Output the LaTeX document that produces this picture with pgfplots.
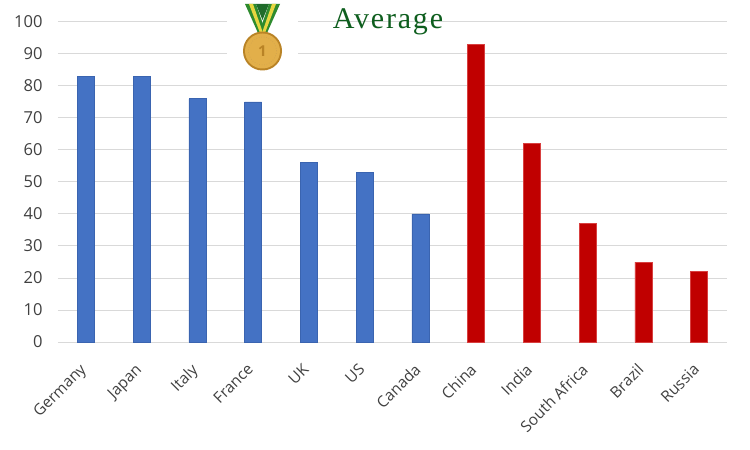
\documentclass[border=0pt]{standalone}
\usepackage{pgfplots}
\pgfplotsset{compat=1.18}
\usepackage{fontspec}
\setmainfont{Open Sans}
\newfontfamily\titlefont[LetterSpace=6]{Liberation Serif}
\definecolor{barblue}{HTML}{4472C4}
\definecolor{barblueedge}{HTML}{3A64B0}
\definecolor{barred}{HTML}{C00000}
\definecolor{barrededge}{HTML}{D84040}
\definecolor{gridgray}{HTML}{D9D9D9}
\definecolor{labgray}{HTML}{404040}
\definecolor{titlegreen}{HTML}{0E5E1E}
\definecolor{ribgreen}{HTML}{2E8B2E}
\definecolor{ribdark}{HTML}{1F6B2A}
\definecolor{ribyellow}{HTML}{E6D640}
\definecolor{gold}{HTML}{E2AF4A}
\definecolor{golddark}{HTML}{B98326}
\begin{document}
\begin{tikzpicture}[x=1pt,y=1pt]
\useasboundingbox (-58,-108) rectangle (692,342);
\begin{axis}[
  at={(0,0)}, anchor=south west,
  scale only axis, width=669pt, height=320pt,
  ymin=0, ymax=100, xmin=-0.5, xmax=11.5,
  ytick={0,10,...,100},
  xtick={0,...,11},
  xticklabels={Germany,Japan,Italy,France,UK,US,Canada,China,India,South Africa,Brazil,Russia},
  x tick label style={xshift=-7pt, yshift=-19pt, rotate=45, anchor=north east, font=\fontsize{15.5}{17}\selectfont, text=labgray, inner sep=1pt},
  y tick label style={font=\fontsize{16.5}{19}\selectfont, text=labgray},
  /pgf/number format/assume math mode=true,
  ymajorgrids, grid style={gridgray, line width=1pt},
  axis x line*=bottom,
  axis y line*=left,
  x axis line style={draw=gridgray, line width=1pt, -},
  y axis line style={draw=none},
  major tick length=0pt,
  ybar, bar width=17pt,
  ytick style={draw=none}, xtick style={draw=none},
  yticklabel style={xshift=-12pt},
  clip=false,
]
\addplot[ybar, bar shift=0pt, fill=barblue, draw=barblueedge, line width=0.6pt] coordinates {
 (0,83) (1,83) (2,76) (3,75) (4,56) (5,53) (6,40)};
\addplot[ybar, bar shift=0pt, fill=barred, draw=barrededge, line width=0.6pt] coordinates {
 (7,93) (8,62) (9,37) (10,25) (11,22)};
\end{axis}
% medal decoration
\fill[white] (169,265) rectangle (240,342);
\fill[ribgreen] (187,338) -- (198,338) -- (208,309) -- (200,309) -- cycle;
\fill[ribgreen] (222,338) -- (211,338) -- (201,309) -- (209,309) -- cycle;
\fill[ribyellow] (191,338) -- (195,338) -- (205,309) -- (202,309) -- cycle;
\fill[ribyellow] (218,338) -- (214,338) -- (204,309) -- (207,309) -- cycle;
\fill[ribdark] (198,338) -- (211,338) -- (204.5,322) -- cycle;
\fill[golddark] (204.5,291) circle (19.5);
\fill[gold] (204.5,291) circle (17.5);
\draw[golddark!80, line width=0.5pt, dotted] (204.5,291) circle (14);
\node[text=golddark, font=\fontsize{15}{15}\selectfont\bfseries] at (204.5,291) {1};
\node[font=\titlefont\fontsize{30}{32}\selectfont, text=titlegreen] at (330,320) {Average};
\end{tikzpicture}
\end{document}
